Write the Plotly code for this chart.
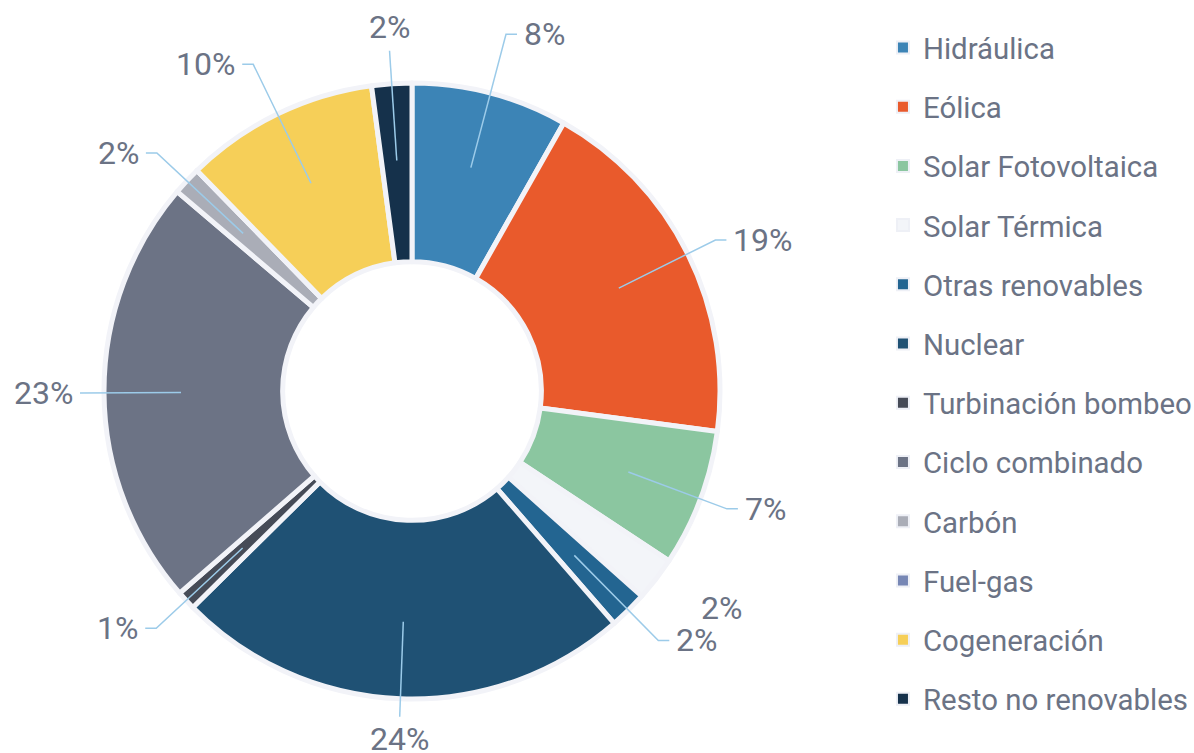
import math
import plotly.graph_objects as go

# ---------------- data ----------------
categories = ["Hidráulica", "Eólica", "Solar Fotovoltaica", "Solar Térmica",
              "Otras renovables", "Nuclear", "Turbinación bombeo", "Ciclo combinado",
              "Carbón", "Fuel-gas", "Cogeneración", "Resto no renovables"]
shares = [8.2, 18.9, 7.2, 2.3, 2.0, 24.0, 1.0, 22.6, 1.5, 0.0, 10.2, 2.1]
colors = ["#3c84b6", "#e95a2c", "#8bc6a0", "#f3f5f9", "#236591", "#1f5174",
          "#464b57", "#6c7385", "#aaadb7", "#7787b5", "#f6cf58", "#15314b"]
labels_without_line = ["Solar Térmica"]

# ---------------- style / geometry ----------------
W, H = 1194, 753
TEXT = "#6b7385"
LINE = "#9ccbe9"
BORDER = "#f2f3f8"
pie_top, pie_bottom = 83, 699
cx = 412
cy = (pie_top + pie_bottom) / 2
R = (pie_bottom - pie_top) / 2
hole = 0.42
dom_x = [0, 2 * cx / W]
dom_y = [1 - pie_bottom / H, 1 - pie_top / H]

fig = go.Figure()
fig.add_trace(go.Pie(
    labels=categories, values=shares,
    marker=dict(colors=colors, line=dict(color=BORDER, width=5)),
    hole=hole, sort=False, direction="clockwise", rotation=0,
    textinfo="none", showlegend=False, domain=dict(x=dom_x, y=dom_y),
    hovertemplate="%{label}: %{percent}<extra></extra>",
))

# leader lines and labels computed from the data (labels on an ellipse)
total = sum(shares)
cum = 0.0
shapes = []
annotations = []
r_start = R * 0.75
ell_a, ell_b = 332, 372
seg = 11
gap = 5
for cat, v in zip(categories, shares):
    frac_mid = (cum + v / 2) / total
    cum += v
    if v <= 0:
        continue
    txt = f"{int(v / total * 100 + 0.5)}%"
    ang = 2 * math.pi * frac_mid
    s, c = math.sin(ang), -math.cos(ang)  # screen: x right, y down
    x0, y0 = cx + r_start * s, cy + r_start * c
    deg = math.degrees(ang) % 360
    near_vertical = min(deg, 360 - deg, abs(deg - 180)) < 8
    near_horizontal = min(abs(deg - 90), abs(deg - 270)) < 8
    if cat in labels_without_line:
        xe, ye = cx + 355 * s, cy + 355 * c
        annotations.append(dict(x=xe + 6, y=ye, text=txt, xanchor="left", yanchor="middle"))
        continue
    if near_vertical:
        rv = 326 if c > 0 else 341
        xe, ye = cx + rv * s, cy + rv * c
        path = f"M{x0},{y0} L{xe},{ye}"
        annotations.append(dict(x=xe, y=ye + (1 if c > 0 else -3), text=txt, xanchor="center",
                                yanchor="top" if c > 0 else "bottom"))
    else:
        re = 1 / math.sqrt((s / ell_a) ** 2 + (c / ell_b) ** 2)
        xe, ye = cx + re * s, cy + re * c
        d = 1 if s > 0 else -1
        xh = xe + (0 if near_horizontal else d * seg)
        path = f"M{x0},{y0} L{xe},{ye} L{xh},{ye}"
        annotations.append(dict(x=xh + d * gap, y=ye, text=txt,
                                xanchor="left" if d > 0 else "right", yanchor="middle"))
    shapes.append(dict(type="path", path=path, xref="x", yref="y", layer="above",
                       line=dict(color=LINE, width=1.5)))

for a in annotations:
    a.update(xref="x", yref="y", showarrow=False,
             font=dict(family="Roboto", size=32, color=TEXT))

# legend entries
for cat, col in zip(categories, colors):
    fig.add_trace(go.Scatter(
        x=[None], y=[None], mode="markers", name=cat, legendgroup=cat,
        marker=dict(symbol="square", size=12, color=col, line=dict(color="#eef0f6", width=2)),
        hoverinfo="skip", showlegend=True))

fig.update_layout(
    width=W, height=H, margin=dict(l=0, r=0, t=0, b=0, autoexpand=False),
    paper_bgcolor="white", plot_bgcolor="rgba(0,0,0,0)",
    xaxis=dict(range=[0, W], visible=False, fixedrange=True),
    yaxis=dict(range=[H, 0], visible=False, fixedrange=True),
    annotations=annotations, shapes=shapes,
    font=dict(family="Roboto", color=TEXT),
    legend=dict(x=0.7395, y=0.971, xanchor="left", yanchor="top",
                font=dict(family="Roboto", size=29.4, color=TEXT),
                tracegroupgap=18.0, bgcolor="rgba(0,0,0,0)",
                itemclick=False, itemdoubleclick=False),
    showlegend=True,
)

fig.write_html("out.html", config={"displayModeBar": False},
               post_script="document.body.style.margin='0';document.body.style.overflow='hidden';")
